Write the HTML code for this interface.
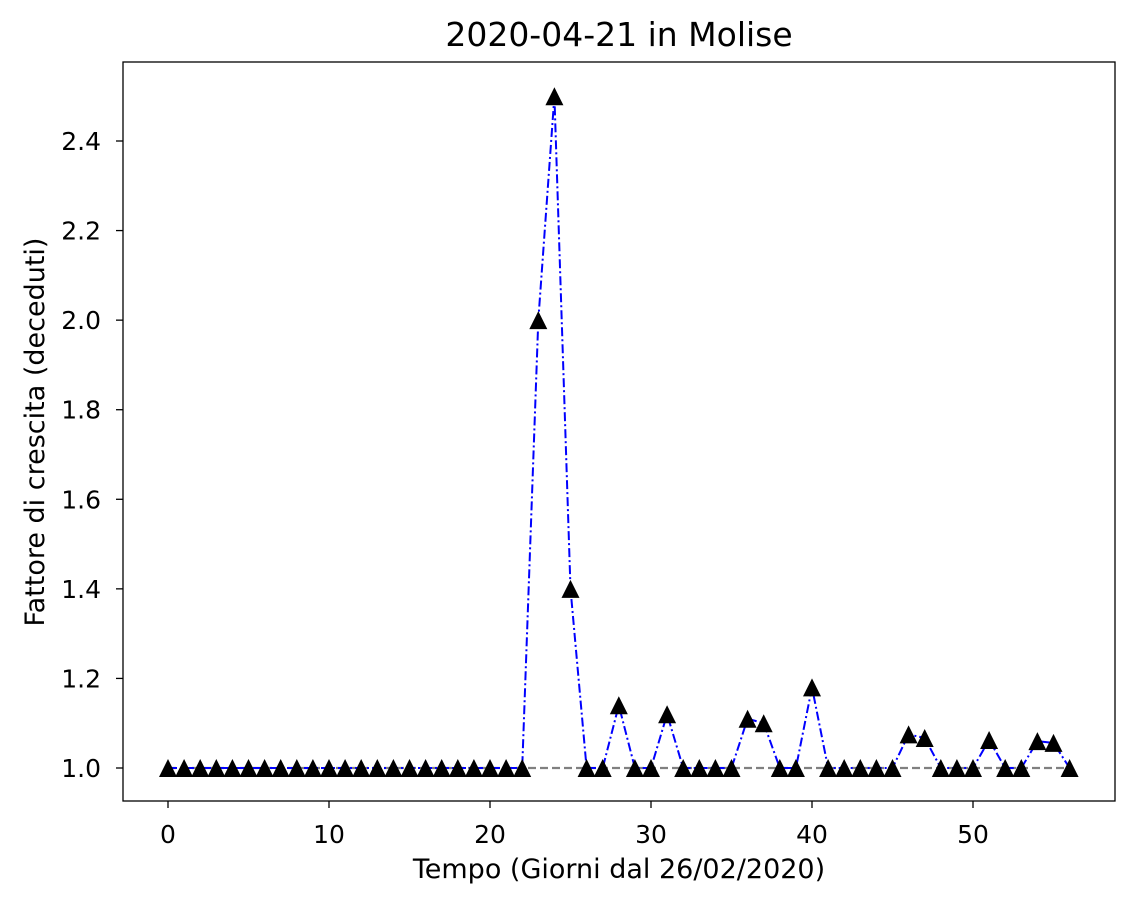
<!DOCTYPE html>
<html><head><meta charset="utf-8"><style>
body{margin:0;background:#fff;}
svg text{font-family:"DejaVu Sans","Liberation Sans",sans-serif;fill:#000;}
</style></head><body>
<svg id="chart" width="1134" height="908" xmlns="http://www.w3.org/2000/svg">
<rect width="1134" height="908" fill="#fff"/>
<text x="619" y="46" font-size="33" text-anchor="middle">2020-04-21 in Molise</text>
<g id="grid"></g>
<g id="marks"></g>
<rect x="123" y="62" width="992" height="739" fill="none" stroke="#000" stroke-width="1.3"/>
<text x="619" y="878" font-size="27" text-anchor="middle">Tempo (Giorni dal 26/02/2020)</text>
<text transform="translate(44,432) rotate(-90)" font-size="27" text-anchor="middle">Fattore di crescita (deceduti)</text>
</svg>
<script>
const days = Array.from({length:57},(_, i)=>i);
const values = [1,1,1,1,1,1,1,1,1,1,1,1,1,1,1,1,1,1,1,1,1,1,1,2.0,2.5,1.4,1,1,1.14,1,1,1.12,1,1,1,1,1.11,1.10,1,1,1.18,1,1,1,1,1,1.075,1.067,1,1,1,1.0625,1,1,1.06,1.056,1];
const xTicks = [0,10,20,30,40,50];
const yTicks = [1.0,1.2,1.4,1.6,1.8,2.0,2.2,2.4];
const refValue = 1.0;
const NS='http://www.w3.org/2000/svg';
const xs = v => 168 + (v-0)*(973-168)/50;
const ys = v => 768 - (v-1.0)*(768-141)/1.4;
const g = document.getElementById('grid');
const m = document.getElementById('marks');
function mk(tag, attrs, parent){const e=document.createElementNS(NS,tag);for(const k in attrs)e.setAttribute(k,attrs[k]);parent.appendChild(e);return e;}
xTicks.forEach(t=>{
  const l=mk('line',{x1:xs(t),x2:xs(t),y1:801,y2:808,stroke:'#000','stroke-width':1.3},g);
  
  
  const tx=mk('text',{x:xs(t),y:843,'font-size':25,'text-anchor':'middle'},g);
  tx.textContent=t;
  
  
});
yTicks.forEach(t=>{
  const l=mk('line',{x1:116,x2:123,y1:ys(t),y2:ys(t),stroke:'#000','stroke-width':1.3},g);
  
  
  const tx=mk('text',{x:101,y:ys(t)+9,'font-size':25,'text-anchor':'end'},g);
  tx.textContent=t.toFixed(1);
  
  
});
const ref=mk('line',{x1:xs(days[0]),x2:xs(days[days.length-1]),y1:ys(refValue),y2:ys(refValue),stroke:'#808080','stroke-width':2.2,'stroke-dasharray':'8,4'},m);


const pl=mk('polyline',{points:days.map((d,i)=>xs(d)+','+ys(values[i])).join(' '),fill:'none',stroke:'#0000ff','stroke-width':2,'stroke-dasharray':'9,3,2,3'},m);


days.forEach((d,i)=>{
  const x=xs(d),y=ys(values[i]);
  const p=mk('polygon',{points:`${x},${y-9} ${x-9},${y+9} ${x+9},${y+9}`,fill:'#000'},m);
  
  
});
</script>
</body></html>
